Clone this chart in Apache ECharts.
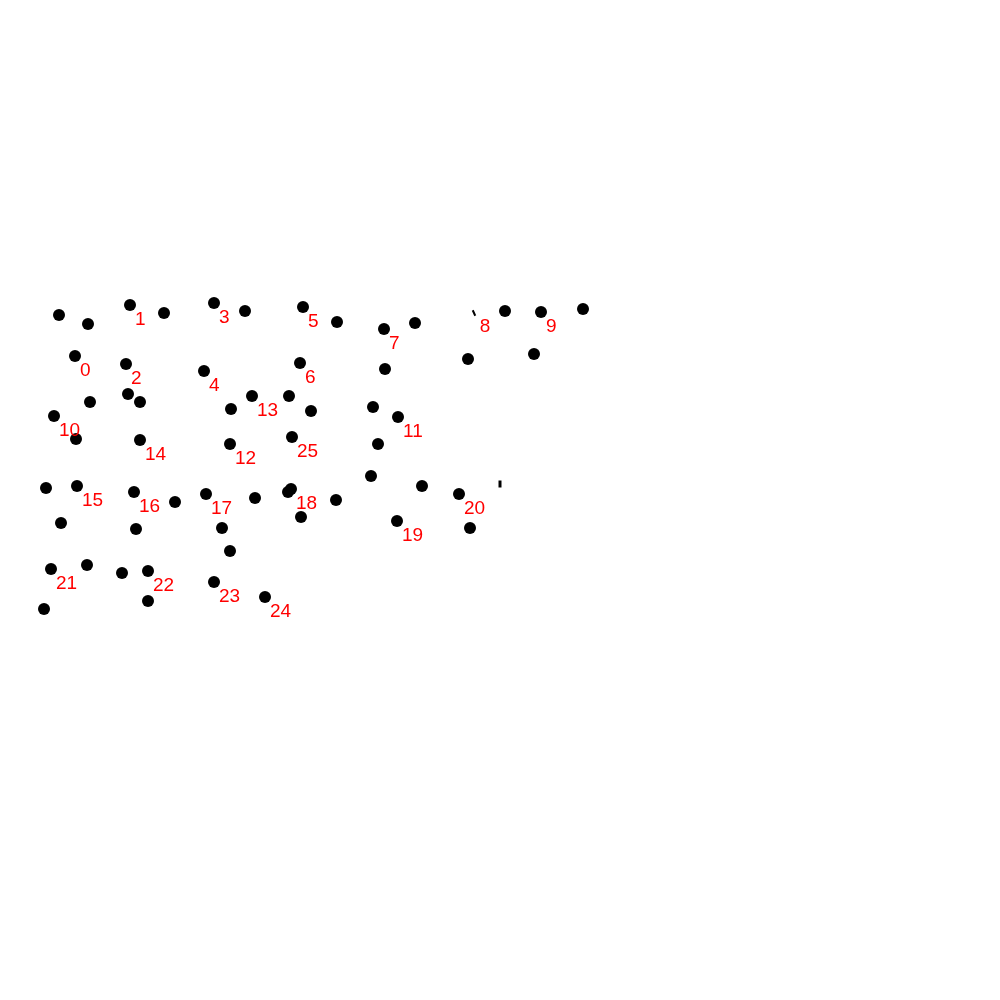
<!DOCTYPE html>
<html><head><meta charset="utf-8">
<script src="https://cdn.jsdelivr.net/npm/echarts@6/dist/echarts.min.js"></script>
<style>html,body{margin:0;padding:0;background:#fff}#c{width:1000px;height:1000px}</style>
</head><body><div id="c"></div>
<script>
// labeled points (id, x, y) in image units
const ids = [0,1,2,3,4,5,6,7,9,10,11,12,13,14,15,16,17,18,19,20,21,22,23,24,25];
const idX = [75,130,126,214,204,303,300,384,541,54,398,230,252,140,77,134,206,291,397,459,51,148,214,265,292];
const idY = [356,305,364,303,371,307,363,329,312,416,417,444,396,440,486,492,494,489,521,494,569,571,582,597,437];
// point 8 is drawn as a tiny stroke
const id8 = [8, 474, 313];
// unlabeled points
const otherX = [59,88,164,245,337,415,505,583,468,534,385,90,128,140,231,289,311,373,76,378,46,61,136,175,222,230,255,288,301,336,371,422,470,87,122,148,44];
const otherY = [315,324,313,311,322,323,311,309,359,354,369,402,394,402,409,396,411,407,439,444,488,523,529,502,528,551,498,492,517,500,476,486,528,565,573,601,609];
// tiny vertical tick mark
const tickMark = [[500,484]];

const labelStyle = {
  show: true, formatter: p => String(p.value[2]), color: '#ff0000', opacity: 1,
  fontFamily: 'Liberation Sans, Arial, sans-serif', fontSize: 19,
  position: [11, 21], align: 'left', verticalAlign: 'middle'
};
const dotStyle = {color: '#000000', opacity: 1};
const chart = echarts.init(document.getElementById('c'));
chart.setOption({
  animation: false,
  grid: {left: 0, right: 0, top: 0, bottom: 0},
  xAxis: {type: 'value', min: 0, max: 1000, show: false},
  yAxis: {type: 'value', min: 0, max: 1000, inverse: true, show: false},
  series: [
    {type: 'scatter', symbol: 'circle', symbolSize: 12, itemStyle: dotStyle,
     data: otherX.map((x, i) => [x, otherY[i]]), silent: true},
    {type: 'scatter', data: tickMark, symbol: 'rect', symbolSize: [3, 7], itemStyle: dotStyle, silent: true},
    {type: 'scatter', symbol: 'circle', symbolSize: 12, itemStyle: dotStyle, silent: true,
     data: ids.map((id, i) => [idX[i], idY[i], id]),
     label: labelStyle},
    {type: 'scatter', symbol: 'rect', symbolSize: [2, 6], symbolRotate: 25, itemStyle: dotStyle, silent: true,
     data: [[id8[1], id8[2], id8[0]]],
     label: Object.assign({}, labelStyle, {position: [8, 17]})}
  ]
});
</script></body></html>
